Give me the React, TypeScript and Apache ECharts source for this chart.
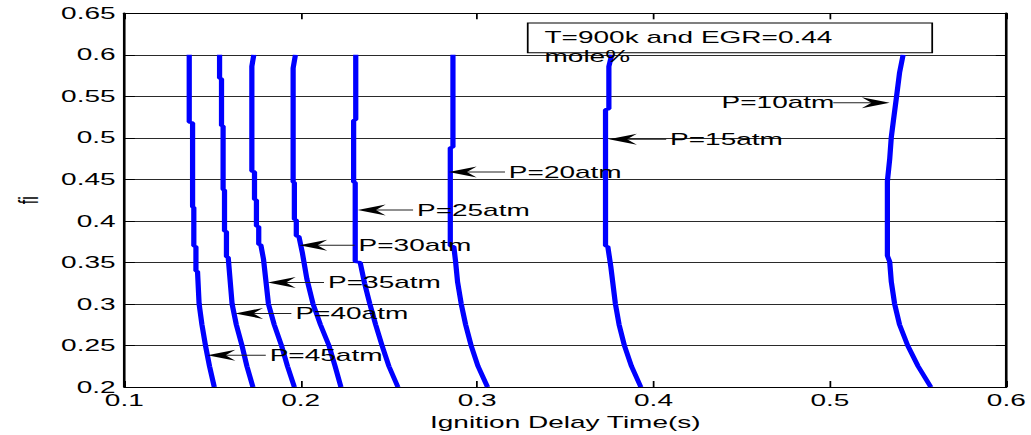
import React, { useEffect, useRef } from "react";
import * as echarts from "echarts";

// The reference figure is horizontally stretched; the chart is drawn at its
// native width and stretched by the same factor.
const STRETCH = 1.75;
const FULL_W = 1031;
const FULL_H = 435;
const NATIVE_W = FULL_W / STRETCH;

const FONT = "'Liberation Sans', Arial, Helvetica, sans-serif";

const xTickMin = 0.1;
const xTickMax = 0.6;
const xTickStep = 0.1;
const yTickMin = 0.2;
const yTickMax = 0.65;
const yTickStep = 0.05;

const xAxisTitle = "Ignition Delay Time(s)";
const yAxisTitle = "fi";

const pressures = ["P=45atm", "P=40atm", "P=35atm", "P=30atm", "P=25atm", "P=20atm", "P=15atm", "P=10atm"];

// [ignition delay (s), fi]
const curveP45 = [
  [0.1368, 0.6], [0.1368, 0.519], [0.1387, 0.518], [0.1387, 0.417], [0.1394, 0.416], [0.1394, 0.37],
  [0.1406, 0.369], [0.1406, 0.34], [0.1415, 0.339], [0.1424, 0.3], [0.144, 0.275], [0.146, 0.25],
  [0.1483, 0.225], [0.151, 0.2],
];
const curveP40 = [
  [0.154, 0.6], [0.154, 0.572], [0.1551, 0.571], [0.1551, 0.515], [0.156, 0.514], [0.156, 0.438],
  [0.1568, 0.437], [0.1568, 0.388], [0.1579, 0.387], [0.1579, 0.357], [0.1589, 0.356], [0.1611, 0.3],
  [0.1635, 0.275], [0.1667, 0.25], [0.1695, 0.225], [0.1729, 0.2],
];
const curveP35 = [
  [0.1734, 0.6], [0.1723, 0.586], [0.1723, 0.46], [0.1738, 0.459], [0.1738, 0.426], [0.1749, 0.425],
  [0.1749, 0.394], [0.1762, 0.393], [0.1762, 0.372], [0.1774, 0.371], [0.1789, 0.354], [0.1817, 0.3],
  [0.185, 0.275], [0.1891, 0.25], [0.1925, 0.225], [0.1964, 0.2],
];
const curveP30 = [
  [0.197, 0.6], [0.1957, 0.584], [0.1957, 0.447], [0.1964, 0.446], [0.1964, 0.402], [0.1975, 0.401],
  [0.1975, 0.382], [0.199, 0.381], [0.2009, 0.362], [0.2035, 0.33], [0.207, 0.3], [0.2112, 0.275],
  [0.216, 0.25], [0.2195, 0.225], [0.2228, 0.2],
];
const curveP25 = [
  [0.2312, 0.6], [0.2312, 0.522], [0.23, 0.521], [0.23, 0.447], [0.2309, 0.446], [0.2309, 0.351],
  [0.2337, 0.35], [0.2362, 0.325], [0.2392, 0.3], [0.2425, 0.275], [0.2461, 0.25], [0.25, 0.225],
  [0.2551, 0.2],
];
const curveP20 = [
  [0.2863, 0.6], [0.2863, 0.489], [0.2848, 0.488], [0.2848, 0.37], [0.2868, 0.369], [0.2878, 0.351],
  [0.2889, 0.327], [0.291, 0.3], [0.2935, 0.275], [0.2966, 0.25], [0.3005, 0.225], [0.3059, 0.2],
];
const curveP15 = [
  [0.3763, 0.6], [0.3747, 0.586], [0.3747, 0.535], [0.3728, 0.534], [0.3728, 0.37], [0.3741, 0.369],
  [0.3758, 0.345], [0.3784, 0.3], [0.3805, 0.275], [0.3835, 0.25], [0.3875, 0.225], [0.3928, 0.2],
];
const curveP10 = [
  [0.5415, 0.6], [0.5395, 0.5785], [0.5378, 0.55], [0.5361, 0.5222], [0.5348, 0.5006], [0.5339, 0.4743],
  [0.5326, 0.4479], [0.5326, 0.3581], [0.5339, 0.3509], [0.5348, 0.327], [0.5367, 0.3], [0.5395, 0.275],
  [0.5441, 0.25], [0.55, 0.225], [0.5572, 0.2],
];
const curves = [curveP45, curveP40, curveP35, curveP30, curveP25, curveP20, curveP15, curveP10];

// annotation anchors, in data units
const labelY = [0.2383, 0.2886, 0.3258, 0.3706, 0.4132, 0.459, 0.4982, 0.5422];
const arrowTipX = [0.1471, 0.1628, 0.1813, 0.1992, 0.2323, 0.2839, 0.3747, 0.5339];
const arrowTailX = [0.1802, 0.1947, 0.2132, 0.2306, 0.2637, 0.3158, 0.4072, 0.5019];
const labelX = [0.1824, 0.197, 0.2155, 0.2328, 0.2659, 0.318, 0.4094, 0.4386];

const boxText = ["T=900k and EGR=0.44", "mole%"];
const boxCorner1 = [0.3287, 0.6384];
const boxCorner2 = [0.558, 0.6024];
const boxTextAnchor = [0.3382, 0.6204];

export default function App() {
  const ref = useRef<HTMLDivElement>(null);

  useEffect(() => {
    if (!ref.current) return;
    const chart = echarts.init(ref.current, undefined, { renderer: "svg", width: NATIVE_W, height: FULL_H });

    const axisText = { color: "#000", fontSize: 16, fontFamily: FONT };

    chart.setOption({
      animation: false,
      backgroundColor: "#fff",
      grid: { left: 66.3, right: NATIVE_W - 576, top: 13.3, bottom: 46, containLabel: false },
      xAxis: [
        {
          type: "value",
          min: xTickMin,
          max: xTickMax,
          interval: xTickStep,
          position: "bottom",
          name: xAxisTitle,
          nameLocation: "middle",
          nameGap: 27,
          nameTextStyle: axisText,
          axisLine: { show: true, lineStyle: { color: "#000", width: 1 } },
          axisTick: { show: true, inside: true, length: 6, lineStyle: { color: "#000", width: 1 } },
          axisLabel: { ...axisText, margin: 5 },
          splitLine: { show: false },
        },
        {
          type: "value",
          min: xTickMin,
          max: xTickMax,
          interval: xTickStep,
          position: "top",
          axisLine: { show: true, lineStyle: { color: "#000", width: 1 } },
          axisTick: { show: true, inside: true, length: 6, lineStyle: { color: "#000", width: 1 } },
          axisLabel: { show: false },
          splitLine: { show: false },
        },
      ],
      yAxis: [
        {
          type: "value",
          min: yTickMin,
          max: yTickMax,
          interval: yTickStep,
          position: "left",
          name: yAxisTitle,
          nameLocation: "middle",
          nameGap: 46,
          nameTextStyle: axisText,
          axisLine: { show: true, lineStyle: { color: "#000", width: 1.5 } },
          axisTick: { show: true, inside: true, length: 6, lineStyle: { color: "#000", width: 1 } },
          axisLabel: { ...axisText, margin: 5 },
          splitLine: { show: true, lineStyle: { color: "#2a2a2a", width: 1, type: "solid" } },
        },
        {
          type: "value",
          min: yTickMin,
          max: yTickMax,
          interval: yTickStep,
          position: "right",
          axisLine: { show: true, lineStyle: { color: "#000", width: 1.5 } },
          axisTick: { show: true, inside: true, length: 6, lineStyle: { color: "#000", width: 1 } },
          axisLabel: { show: false },
          splitLine: { show: false },
        },
      ],
      series: curves.map((c, i) => ({
        name: pressures[i],
        type: "line",
        xAxisIndex: 0,
        yAxisIndex: 0,
        data: c,
        showSymbol: false,
        symbol: "none",
        smooth: false,
        lineStyle: { color: "#0000ff", width: 3 },
        z: 5,
      })),
    });

    const px = (x: number, y: number) =>
      chart.convertToPixel({ xAxisIndex: 0, yAxisIndex: 0 }, [x, y]) as number[];

    const graphics: any[] = [];
    const L = 16;
    const h = 5.5;
    pressures.forEach((label, i) => {
      const [tipX, yy] = px(arrowTipX[i], labelY[i]);
      const [tailX] = px(arrowTailX[i], labelY[i]);
      const [textX] = px(labelX[i], labelY[i]);
      const dir = tailX > tipX ? 1 : -1;
      graphics.push({
        type: "line",
        shape: { x1: tipX + dir * L * 0.6, y1: yy, x2: tailX, y2: yy },
        style: { stroke: "#222", lineWidth: 1 },
        z: 20,
      });
      graphics.push({
        type: "polygon",
        shape: {
          points: [
            [tipX, yy],
            [tipX + dir * L, yy - h],
            [tipX + dir * L * 0.65, yy],
            [tipX + dir * L, yy + h],
          ],
        },
        style: { fill: "#000" },
        z: 20,
      });
      graphics.push({
        type: "text",
        x: textX,
        y: yy,
        style: { text: label, fontSize: 16, fontFamily: FONT, fill: "#000", align: "left", verticalAlign: "middle" },
        z: 21,
      });
    });

    const [bx1, by1] = px(boxCorner1[0], boxCorner1[1]);
    const [bx2, by2] = px(boxCorner2[0], boxCorner2[1]);
    graphics.push({
      type: "rect",
      shape: { x: Math.min(bx1, bx2), y: Math.min(by1, by2), width: Math.abs(bx2 - bx1), height: Math.abs(by2 - by1) },
      style: { fill: "#fff", stroke: "#000", lineWidth: 1 },
      z: 18,
    });
    const [tx, ty] = px(boxTextAnchor[0], boxTextAnchor[1]);
    boxText.forEach((t, i) => {
      graphics.push({
        type: "text",
        x: tx,
        y: ty + i * 19,
        style: { text: t, fontSize: 16, fontFamily: FONT, fill: "#000", align: "left", verticalAlign: "middle" },
        z: 21,
      });
    });

    chart.setOption({ graphic: graphics });

    return () => chart.dispose();
  }, []);

  return (
    <div style={{ position: "fixed", left: 0, top: 0, width: FULL_W, height: FULL_H, overflow: "hidden", background: "#fff" }}>
      <div
        ref={ref}
        style={{
          width: NATIVE_W,
          height: FULL_H,
          transform: `scaleX(${STRETCH})`,
          transformOrigin: "0 0",
        }}
      />
    </div>
  );
}
